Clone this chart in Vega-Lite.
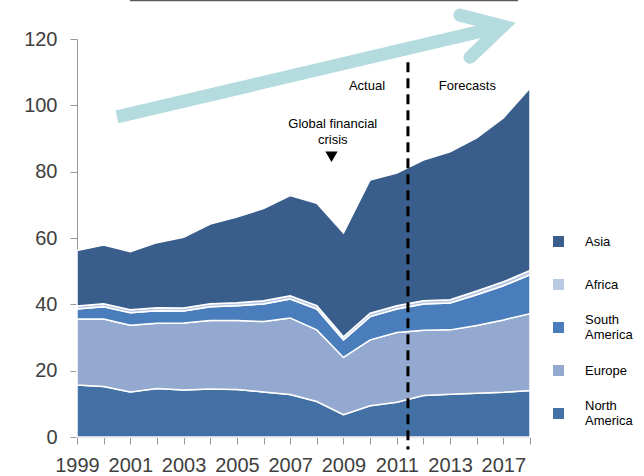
{
  "$schema": "https://vega.github.io/schema/vega-lite/v6.json",
  "width": 453,
  "height": 398,
  "autosize": {"type": "none"},
  "padding": {"left": 77, "top": 39, "right": 114, "bottom": 39},
  "background": "white",
  "config": {"view": {"stroke": null}, "font": "Liberation Sans"},
  "resolve": {"scale": {"x": "independent", "y": "independent"}},
  "layer": [
    {
      "data": {"values": [
        {"year": "1999", "region": "North America", "value": 15.7}, {"year": "1999", "region": "Europe", "value": 19.9}, {"year": "1999", "region": "South America", "value": 3.0}, {"year": "1999", "region": "Africa", "value": 0.9}, {"year": "1999", "region": "Asia", "value": 16.7},
        {"year": "2000", "region": "North America", "value": 15.2}, {"year": "2000", "region": "Europe", "value": 20.4}, {"year": "2000", "region": "South America", "value": 3.7}, {"year": "2000", "region": "Africa", "value": 0.9}, {"year": "2000", "region": "Asia", "value": 17.7},
        {"year": "2001", "region": "North America", "value": 13.6}, {"year": "2001", "region": "Europe", "value": 20.1}, {"year": "2001", "region": "South America", "value": 3.8}, {"year": "2001", "region": "Africa", "value": 0.9}, {"year": "2001", "region": "Asia", "value": 17.5},
        {"year": "2002", "region": "North America", "value": 14.6}, {"year": "2002", "region": "Europe", "value": 19.7}, {"year": "2002", "region": "South America", "value": 3.8}, {"year": "2002", "region": "Africa", "value": 0.9}, {"year": "2002", "region": "Asia", "value": 19.6},
        {"year": "2003", "region": "North America", "value": 14.2}, {"year": "2003", "region": "Europe", "value": 20.2}, {"year": "2003", "region": "South America", "value": 3.6}, {"year": "2003", "region": "Africa", "value": 0.9}, {"year": "2003", "region": "Asia", "value": 21.3},
        {"year": "2004", "region": "North America", "value": 14.5}, {"year": "2004", "region": "Europe", "value": 20.6}, {"year": "2004", "region": "South America", "value": 4.2}, {"year": "2004", "region": "Africa", "value": 0.9}, {"year": "2004", "region": "Asia", "value": 24.0},
        {"year": "2005", "region": "North America", "value": 14.3}, {"year": "2005", "region": "Europe", "value": 20.8}, {"year": "2005", "region": "South America", "value": 4.5}, {"year": "2005", "region": "Africa", "value": 0.9}, {"year": "2005", "region": "Asia", "value": 25.8},
        {"year": "2006", "region": "North America", "value": 13.6}, {"year": "2006", "region": "Europe", "value": 21.2}, {"year": "2006", "region": "South America", "value": 5.3}, {"year": "2006", "region": "Africa", "value": 1.0}, {"year": "2006", "region": "Asia", "value": 27.8},
        {"year": "2007", "region": "North America", "value": 12.8}, {"year": "2007", "region": "Europe", "value": 23.1}, {"year": "2007", "region": "South America", "value": 5.7}, {"year": "2007", "region": "Africa", "value": 1.0}, {"year": "2007", "region": "Asia", "value": 30.2},
        {"year": "2008", "region": "North America", "value": 10.7}, {"year": "2008", "region": "Europe", "value": 21.6}, {"year": "2008", "region": "South America", "value": 6.3}, {"year": "2008", "region": "Africa", "value": 1.0}, {"year": "2008", "region": "Asia", "value": 30.9},
        {"year": "2009", "region": "North America", "value": 6.7}, {"year": "2009", "region": "Europe", "value": 17.3}, {"year": "2009", "region": "South America", "value": 5.3}, {"year": "2009", "region": "Africa", "value": 0.9}, {"year": "2009", "region": "Asia", "value": 31.3},
        {"year": "2010", "region": "North America", "value": 9.4}, {"year": "2010", "region": "Europe", "value": 19.9}, {"year": "2010", "region": "South America", "value": 7.0}, {"year": "2010", "region": "Africa", "value": 1.0}, {"year": "2010", "region": "Asia", "value": 40.2},
        {"year": "2011", "region": "North America", "value": 10.5}, {"year": "2011", "region": "Europe", "value": 21.0}, {"year": "2011", "region": "South America", "value": 7.1}, {"year": "2011", "region": "Africa", "value": 1.0}, {"year": "2011", "region": "Asia", "value": 40.0},
        {"year": "2012", "region": "North America", "value": 12.5}, {"year": "2012", "region": "Europe", "value": 19.7}, {"year": "2012", "region": "South America", "value": 7.9}, {"year": "2012", "region": "Africa", "value": 1.0}, {"year": "2012", "region": "Asia", "value": 42.4},
        {"year": "2013", "region": "North America", "value": 12.9}, {"year": "2013", "region": "Europe", "value": 19.4}, {"year": "2013", "region": "South America", "value": 8.1}, {"year": "2013", "region": "Africa", "value": 1.0}, {"year": "2013", "region": "Asia", "value": 44.6},
        {"year": "2015", "region": "North America", "value": 13.2}, {"year": "2015", "region": "Europe", "value": 20.4}, {"year": "2015", "region": "South America", "value": 9.3}, {"year": "2015", "region": "Africa", "value": 1.1}, {"year": "2015", "region": "Asia", "value": 46.2},
        {"year": "2017", "region": "North America", "value": 13.5}, {"year": "2017", "region": "Europe", "value": 21.8}, {"year": "2017", "region": "South America", "value": 10.3}, {"year": "2017", "region": "Africa", "value": 1.2}, {"year": "2017", "region": "Asia", "value": 49.4},
        {"year": "2018", "region": "North America", "value": 14.0}, {"year": "2018", "region": "Europe", "value": 23.2}, {"year": "2018", "region": "South America", "value": 11.7}, {"year": "2018", "region": "Africa", "value": 1.3}, {"year": "2018", "region": "Asia", "value": 55.0}
      ]},
      "transform": [
        {"calculate": "indexof(['North America', 'Europe', 'South America', 'Africa', 'Asia'], datum.region)", "as": "stackOrder"}
      ],
      "mark": {"type": "area", "stroke": "white", "strokeWidth": 1.5, "opacity": 1},
      "encoding": {
        "x": {"field": "year", "type": "ordinal", "sort": null, "scale": {"type": "point", "padding": 0},
          "axis": {"title": null, "labelAngle": 0, "labelFontSize": 20, "labelColor": "#404040", "labelFont": "Liberation Sans", "labelPadding": 11, "labelOverlap": false,
            "labelExpr": "indexof(['1999','2001','2003','2005','2007','2009','2011','2013','2017'], datum.value) >= 0 ? datum.label : ''",
            "domainColor": "#999999", "tickColor": "#999999", "tickSize": 7, "grid": false}},
        "y": {"field": "value", "type": "quantitative", "stack": "zero", "scale": {"domain": [0, 120], "nice": false},
          "axis": {"title": null, "values": [0, 20, 40, 60, 80, 100, 120], "grid": false, "labelFontSize": 20, "labelColor": "#404040", "labelFont": "Liberation Sans", "labelPadding": 13,
            "domainColor": "#999999", "tickColor": "#999999", "tickSize": 7}},
        "color": {"field": "region", "type": "nominal", "sort": ["Asia", "Africa", "South America", "Europe", "North America"],
          "scale": {"range": ["#3a5e8c", "#b9c8e3", "#4a7dbb", "#94a9cf", "#4371a6"]},
          "legend": {"orient": "none", "legendX": 475, "legendY": 196, "title": null, "symbolType": "square", "symbolSize": 121, "symbolStrokeWidth": 0,
            "labelFontSize": 13, "labelFont": "Liberation Sans", "labelColor": "#000000", "labelOffset": 20, "rowPadding": 14, "gridAlign": "all", "padding": 0,
            "labelBaseline": {"expr": "datum.value == 'South America' || datum.value == 'North America' ? 'line-bottom' : 'middle'"},
            "labelExpr": "datum.label == 'South America' ? ['South', 'America'] : datum.label == 'North America' ? ['North', 'America'] : datum.label"}},
        "order": {"field": "stackOrder", "type": "quantitative", "sort": "ascending"}
      }
    },
    {
      "data": {"values": [{"x": 1.99, "x2": 16.55, "y": 131.6}]},
      "mark": {"type": "rule", "color": "#595959", "strokeWidth": 1.5, "clip": false},
      "encoding": {
        "x": {"field": "x", "type": "quantitative", "scale": {"domain": [0, 17], "nice": false, "zero": false}, "axis": null},
        "x2": {"field": "x2"},
        "y": {"field": "y", "type": "quantitative", "scale": {"domain": [0, 120], "nice": false}, "axis": null}
      }
    },
    {
      "data": {"values": [{"x": 1.5, "y": 96.5}, {"x": 15.98, "y": 123.9}]},
      "mark": {"type": "line", "color": "#b4dcdf", "strokeWidth": 13, "strokeCap": "butt", "clip": false},
      "encoding": {
        "x": {"field": "x", "type": "quantitative", "scale": {"domain": [0, 17], "nice": false, "zero": false}, "axis": null},
        "y": {"field": "y", "type": "quantitative", "scale": {"domain": [0, 120], "nice": false}, "axis": null}
      }
    },
    {
      "data": {"values": [{"x": 14.37, "y": 127.2}, {"x": 15.98, "y": 123.9}, {"x": 14.75, "y": 114.5}]},
      "mark": {"type": "line", "color": "#b4dcdf", "strokeWidth": 13, "strokeCap": "round", "strokeJoin": "miter", "clip": false},
      "encoding": {
        "x": {"field": "x", "type": "quantitative", "scale": {"domain": [0, 17], "nice": false, "zero": false}, "axis": null},
        "y": {"field": "y", "type": "quantitative", "scale": {"domain": [0, 120], "nice": false}, "axis": null},
        "order": {"value": null}
      }
    },
    {
      "data": {"values": [{"x": 12.42, "y": 113, "y2": -3.8}]},
      "mark": {"type": "rule", "color": "#000000", "strokeWidth": 3, "strokeDash": [10, 6], "clip": false},
      "encoding": {
        "x": {"field": "x", "type": "quantitative", "scale": {"domain": [0, 17], "nice": false, "zero": false}, "axis": null},
        "y": {"field": "y", "type": "quantitative", "scale": {"domain": [0, 120], "nice": false}, "axis": null},
        "y2": {"field": "y2"}
      }
    },
    {
      "data": {"values": [{"x": 11.56, "y": 105.8, "label": "Actual"}]},
      "mark": {"type": "text", "fontSize": 13, "font": "Liberation Sans", "color": "#000000", "align": "right", "baseline": "middle", "clip": false},
      "encoding": {
        "x": {"field": "x", "type": "quantitative", "scale": {"domain": [0, 17], "nice": false, "zero": false}, "axis": null},
        "y": {"field": "y", "type": "quantitative", "scale": {"domain": [0, 120], "nice": false}, "axis": null},
        "text": {"field": "label"}
      }
    },
    {
      "data": {"values": [{"x": 13.58, "y": 105.8, "label": "Forecasts"}]},
      "mark": {"type": "text", "fontSize": 13, "font": "Liberation Sans", "color": "#000000", "align": "left", "baseline": "middle", "clip": false},
      "encoding": {
        "x": {"field": "x", "type": "quantitative", "scale": {"domain": [0, 17], "nice": false, "zero": false}, "axis": null},
        "y": {"field": "y", "type": "quantitative", "scale": {"domain": [0, 120], "nice": false}, "axis": null},
        "text": {"field": "label"}
      }
    },
    {
      "data": {"values": [{"x": 9.6, "y": 94.4, "label": "Global financial\ncrisis"}]},
      "mark": {"type": "text", "fontSize": 13, "font": "Liberation Sans", "color": "#000000", "align": "center", "baseline": "middle", "lineBreak": "\n", "lineHeight": 16, "clip": false},
      "encoding": {
        "x": {"field": "x", "type": "quantitative", "scale": {"domain": [0, 17], "nice": false, "zero": false}, "axis": null},
        "y": {"field": "y", "type": "quantitative", "scale": {"domain": [0, 120], "nice": false}, "axis": null},
        "text": {"field": "label"}
      }
    },
    {
      "data": {"values": [{"x": 9.55, "y": 84.5}]},
      "mark": {"type": "point", "shape": "triangle-down", "filled": true, "color": "#000000", "size": 150, "opacity": 1, "clip": false},
      "encoding": {
        "x": {"field": "x", "type": "quantitative", "scale": {"domain": [0, 17], "nice": false, "zero": false}, "axis": null},
        "y": {"field": "y", "type": "quantitative", "scale": {"domain": [0, 120], "nice": false}, "axis": null}
      }
    }
  ]
}
